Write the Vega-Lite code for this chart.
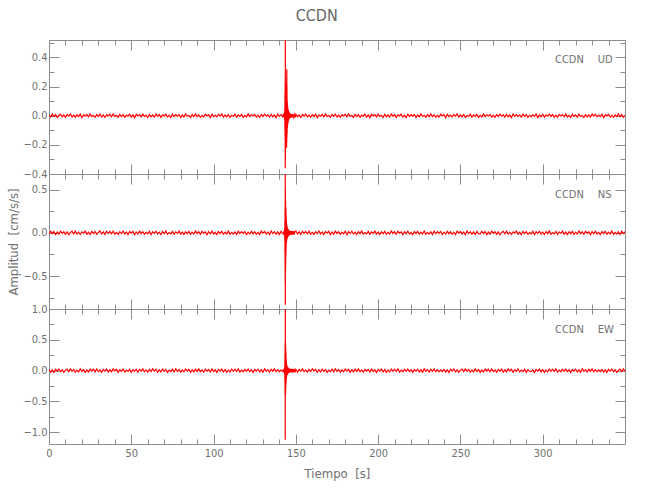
{
  "$schema": "https://vega.github.io/schema/vega-lite/v6.json",
  "background": "white",
  "padding": {"left": 7, "top": 8, "right": 20, "bottom": 10},
  "bounds": "flush",
  "spacing": 0,
  "title": {"text": "CCDN", "anchor": "middle", "fontSize": 16, "fontWeight": "normal", "color": "#666666", "offset": 12},
  "datasets": {
    "seis": [
{"t":0,"u":0.006,"n":-0.012,"e":0.018},
{"t":1,"u":-0.009,"n":0.018,"e":-0.025},
{"t":2,"u":0.011,"n":-0.007,"e":0.012},
{"t":3,"u":-0.004,"n":0.015,"e":-0.03},
{"t":4,"u":0.008,"n":-0.02,"e":0.022},
{"t":5,"u":-0.012,"n":0.009,"e":-0.008},
{"t":6,"u":0.003,"n":-0.016,"e":0.027},
{"t":7,"u":0.01,"n":0.021,"e":-0.019},
{"t":8,"u":-0.007,"n":-0.005,"e":0.014},
{"t":9,"u":0.005,"n":0.013,"e":-0.028},
{"t":10,"u":-0.011,"n":-0.018,"e":0.009},
{"t":11,"u":0.009,"n":0.01,"e":0.024},
{"t":12,"u":-0.002,"n":-0.022,"e":-0.016},
{"t":13,"u":0.012,"n":0.006,"e":0.029},
{"t":14,"u":-0.008,"n":0.017,"e":-0.011},
{"t":15,"u":0.004,"n":-0.011,"e":0.02},
{"t":16,"u":-0.01,"n":0.019,"e":-0.026},
{"t":17,"u":0.007,"n":-0.014,"e":0.007},
{"t":18,"u":-0.005,"n":0.008,"e":-0.022},
{"t":19,"u":0.011,"n":-0.019,"e":0.03},
{"t":20,"u":-0.013,"n":0.012,"e":-0.013},
{"t":21,"u":0.006,"n":-0.003,"e":0.017},
{"t":22,"u":-0.003,"n":0.02,"e":-0.027},
{"t":23,"u":0.009,"n":-0.015,"e":0.01},
{"t":24,"u":-0.008,"n":0.007,"e":-0.021},
{"t":25,"u":0.012,"n":-0.021,"e":0.025},
{"t":26,"u":-0.006,"n":0.016,"e":-0.006},
{"t":27,"u":0.002,"n":-0.009,"e":0.023},
{"t":28,"u":-0.01,"n":0.014,"e":-0.018},
{"t":29,"u":0.008,"n":-0.017,"e":0.028},
{"t":30,"u":-0.004,"n":0.004,"e":-0.015},
{"t":31,"u":0.011,"n":0.022,"e":0.011},
{"t":32,"u":-0.009,"n":-0.013,"e":-0.029},
{"t":33,"u":0.005,"n":0.011,"e":0.019},
{"t":34,"u":-0.012,"n":-0.02,"e":-0.009},
{"t":35,"u":0.007,"n":0.018,"e":0.026},
{"t":36,"u":-0.001,"n":-0.006,"e":-0.024},
{"t":37,"u":0.01,"n":0.015,"e":0.013},
{"t":38,"u":-0.007,"n":-0.01,"e":-0.02},
{"t":39,"u":0.013,"n":0.019,"e":0.029},
{"t":40,"u":-0.005,"n":-0.016,"e":-0.005},
{"t":41,"u":0.003,"n":0.005,"e":0.021},
{"t":42,"u":-0.011,"n":-0.018,"e":-0.028},
{"t":43,"u":0.009,"n":0.013,"e":0.016},
{"t":44,"u":-0.006,"n":-0.008,"e":-0.012},
{"t":45,"u":0.008,"n":0.021,"e":0.027},
{"t":46,"u":-0.01,"n":-0.012,"e":-0.023},
{"t":47,"u":0.004,"n":0.009,"e":0.008},
{"t":48,"u":-0.003,"n":-0.019,"e":-0.017},
{"t":49,"u":0.012,"n":0.016,"e":0.024},
{"t":50,"u":-0.009,"n":-0.004,"e":-0.03},
{"t":51,"u":0.006,"n":0.017,"e":0.014},
{"t":52,"u":-0.013,"n":-0.022,"e":-0.01},
{"t":53,"u":0.01,"n":0.01,"e":0.022},
{"t":54,"u":-0.002,"n":-0.014,"e":-0.026},
{"t":55,"u":0.007,"n":0.02,"e":0.018},
{"t":56,"u":-0.008,"n":-0.007,"e":-0.007},
{"t":57,"u":0.011,"n":0.012,"e":0.029},
{"t":58,"u":-0.005,"n":-0.017,"e":-0.019},
{"t":59,"u":0.003,"n":0.006,"e":0.012},
{"t":60,"u":-0.012,"n":-0.011,"e":-0.025},
{"t":61,"u":0.009,"n":0.018,"e":0.02},
{"t":62,"u":-0.007,"n":-0.021,"e":-0.014},
{"t":63,"u":0.005,"n":0.014,"e":0.028},
{"t":64,"u":-0.01,"n":-0.005,"e":-0.008},
{"t":65,"u":0.012,"n":0.019,"e":0.023},
{"t":66,"u":-0.004,"n":-0.013,"e":-0.027},
{"t":67,"u":0.008,"n":0.008,"e":0.015},
{"t":68,"u":-0.011,"n":-0.02,"e":-0.021},
{"t":69,"u":0.006,"n":0.015,"e":0.026},
{"t":70,"u":-0.002,"n":-0.009,"e":-0.011},
{"t":71,"u":0.01,"n":0.022,"e":0.017},
{"t":72,"u":-0.009,"n":-0.016,"e":-0.029},
{"t":73,"u":0.004,"n":0.003,"e":0.009},
{"t":74,"u":-0.013,"n":-0.012,"e":-0.016},
{"t":75,"u":0.011,"n":0.017,"e":0.025},
{"t":76,"u":-0.006,"n":-0.018,"e":-0.022},
{"t":77,"u":0.007,"n":0.011,"e":0.03},
{"t":78,"u":-0.003,"n":-0.006,"e":-0.013},
{"t":79,"u":0.009,"n":0.02,"e":0.019},
{"t":80,"u":-0.012,"n":-0.015,"e":-0.024},
{"t":81,"u":0.005,"n":0.009,"e":0.01},
{"t":82,"u":-0.008,"n":-0.021,"e":-0.018},
{"t":83,"u":0.013,"n":0.013,"e":0.027},
{"t":84,"u":-0.004,"n":-0.01,"e":-0.006},
{"t":85,"u":0.002,"n":0.016,"e":0.021},
{"t":86,"u":-0.01,"n":-0.019,"e":-0.028},
{"t":87,"u":0.008,"n":0.007,"e":0.014},
{"t":88,"u":-0.007,"n":-0.014,"e":-0.02},
{"t":89,"u":0.012,"n":0.021,"e":0.024},
{"t":90,"u":-0.005,"n":-0.008,"e":-0.012},
{"t":91,"u":0.006,"n":0.012,"e":0.029},
{"t":92,"u":-0.011,"n":-0.017,"e":-0.017},
{"t":93,"u":0.003,"n":0.018,"e":0.011},
{"t":94,"u":-0.009,"n":-0.003,"e":-0.026},
{"t":95,"u":0.01,"n":0.01,"e":0.022},
{"t":96,"u":-0.002,"n":-0.022,"e":-0.009},
{"t":97,"u":0.007,"n":0.015,"e":0.018},
{"t":98,"u":-0.013,"n":-0.011,"e":-0.023},
{"t":99,"u":0.011,"n":0.019,"e":0.028},
{"t":100,"u":-0.006,"n":-0.013,"e":-0.015},
{"t":101,"u":0.004,"n":0.006,"e":0.013},
{"t":102,"u":-0.008,"n":-0.02,"e":-0.03},
{"t":103,"u":0.009,"n":0.014,"e":0.02},
{"t":104,"u":-0.003,"n":-0.007,"e":-0.007},
{"t":105,"u":0.012,"n":0.017,"e":0.025},
{"t":106,"u":-0.01,"n":-0.016,"e":-0.019},
{"t":107,"u":0.005,"n":0.009,"e":0.016},
{"t":108,"u":-0.007,"n":-0.012,"e":-0.027},
{"t":109,"u":0.008,"n":0.022,"e":0.012},
{"t":110,"u":-0.012,"n":-0.018,"e":-0.022},
{"t":111,"u":0.002,"n":0.005,"e":0.026},
{"t":112,"u":-0.004,"n":-0.015,"e":-0.01},
{"t":113,"u":0.011,"n":0.011,"e":0.023},
{"t":114,"u":-0.009,"n":-0.019,"e":-0.014},
{"t":115,"u":0.006,"n":0.02,"e":0.029},
{"t":116,"u":-0.005,"n":-0.009,"e":-0.025},
{"t":117,"u":0.01,"n":0.013,"e":0.008},
{"t":118,"u":-0.011,"n":-0.006,"e":-0.018},
{"t":119,"u":0.003,"n":0.016,"e":0.021},
{"t":120,"u":-0.008,"n":-0.021,"e":-0.011},
{"t":121,"u":0.013,"n":0.008,"e":0.027},
{"t":122,"u":-0.006,"n":-0.014,"e":-0.016},
{"t":123,"u":0.007,"n":0.018,"e":0.015},
{"t":124,"u":-0.002,"n":-0.01,"e":-0.029},
{"t":125,"u":0.009,"n":0.012,"e":0.019},
{"t":126,"u":-0.01,"n":-0.017,"e":-0.008},
{"t":127,"u":0.004,"n":0.007,"e":0.024},
{"t":128,"u":-0.012,"n":-0.02,"e":-0.021},
{"t":129,"u":0.008,"n":0.019,"e":0.013},
{"t":130,"u":-0.005,"n":-0.004,"e":-0.026},
{"t":131,"u":0.011,"n":0.015,"e":0.03},
{"t":132,"u":-0.003,"n":-0.013,"e":-0.012},
{"t":133,"u":0.006,"n":0.01,"e":0.017},
{"t":134,"u":-0.009,"n":-0.022,"e":-0.023},
{"t":135,"u":0.01,"n":0.021,"e":0.022},
{"t":136,"u":-0.007,"n":-0.008,"e":-0.009},
{"t":137,"u":0.005,"n":0.014,"e":0.028},
{"t":138,"u":-0.013,"n":-0.016,"e":-0.017},
{"t":139,"u":0.012,"n":0.011,"e":0.015},
{"t":140,"u":-0.004,"n":-0.019,"e":-0.02},
{"t":141,"u":0.008,"n":0.017,"e":0.011},
{"t":142,"u":-0.006,"n":-0.009,"e":-0.014},
{"t":142.5,"u":0.007,"n":-0.014,"e":0.02},
{"t":142.7,"u":-0.01,"n":0.018,"e":-0.025},
{"t":142.9,"u":0.012,"n":-0.02,"e":0.028},
{"t":143.0,"u":-0.015,"n":0.025,"e":-0.03},
{"t":143.1,"u":0.02,"n":-0.03,"e":0.04},
{"t":143.2,"u":-0.03,"n":0.05,"e":-0.06},
{"t":143.3,"u":0.06,"n":-0.09,"e":0.12},
{"t":143.35,"u":-0.1,"n":0.15,"e":-0.2},
{"t":143.4,"u":0.16,"n":-0.25,"e":0.3},
{"t":143.45,"u":-0.16,"n":0.3,"e":-0.41},
{"t":143.5,"u":0.23,"n":-0.6,"e":0.47},
{"t":143.55,"u":-0.36,"n":0.75,"e":-1.12},
{"t":143.6,"u":0.56,"n":-0.83,"e":1.05},
{"t":143.65,"u":-0.3,"n":0.5,"e":-0.4},
{"t":143.7,"u":0.2,"n":-0.45,"e":0.47},
{"t":143.75,"u":-0.2,"n":0.36,"e":-0.38},
{"t":143.8,"u":0.15,"n":-0.4,"e":0.4},
{"t":143.85,"u":-0.14,"n":0.3,"e":-0.3},
{"t":143.9,"u":0.12,"n":-0.3,"e":0.33},
{"t":143.95,"u":-0.1,"n":0.28,"e":-0.25},
{"t":144.0,"u":0.1,"n":-0.22,"e":0.28},
{"t":144.05,"u":-0.12,"n":0.22,"e":-0.2},
{"t":144.1,"u":0.14,"n":-0.16,"e":0.2},
{"t":144.15,"u":-0.15,"n":0.18,"e":-0.16},
{"t":144.2,"u":0.18,"n":-0.13,"e":0.17},
{"t":144.25,"u":-0.2,"n":0.14,"e":-0.12},
{"t":144.3,"u":0.22,"n":-0.11,"e":0.13},
{"t":144.35,"u":-0.22,"n":0.11,"e":-0.1},
{"t":144.4,"u":0.26,"n":-0.09,"e":0.1},
{"t":144.45,"u":-0.18,"n":0.09,"e":-0.09},
{"t":144.5,"u":0.32,"n":-0.08,"e":0.08},
{"t":144.55,"u":-0.15,"n":0.08,"e":-0.08},
{"t":144.6,"u":0.2,"n":-0.07,"e":0.07},
{"t":144.7,"u":-0.12,"n":0.07,"e":-0.07},
{"t":144.8,"u":0.1,"n":-0.06,"e":0.07},
{"t":144.9,"u":-0.08,"n":0.06,"e":-0.06},
{"t":145.0,"u":0.07,"n":-0.05,"e":0.06},
{"t":145.1,"u":-0.06,"n":0.05,"e":-0.05},
{"t":145.2,"u":0.05,"n":-0.045,"e":0.05},
{"t":145.3,"u":-0.045,"n":0.04,"e":-0.045},
{"t":145.4,"u":0.04,"n":-0.04,"e":0.045},
{"t":145.5,"u":-0.035,"n":0.035,"e":-0.04},
{"t":145.6,"u":0.03,"n":-0.035,"e":0.04},
{"t":145.7,"u":-0.028,"n":0.03,"e":-0.035},
{"t":145.8,"u":0.025,"n":-0.03,"e":0.035},
{"t":145.9,"u":-0.022,"n":0.028,"e":-0.03},
{"t":146.0,"u":0.02,"n":-0.026,"e":0.032},
{"t":146.2,"u":-0.018,"n":0.025,"e":-0.03},
{"t":146.4,"u":0.016,"n":-0.024,"e":0.031},
{"t":146.6,"u":-0.015,"n":0.023,"e":-0.03},
{"t":146.8,"u":0.014,"n":-0.022,"e":0.029},
{"t":147.0,"u":-0.013,"n":0.022,"e":-0.03},
{"t":147.3,"u":0.012,"n":-0.021,"e":0.03},
{"t":147.6,"u":-0.012,"n":0.021,"e":-0.029},
{"t":148.0,"u":0.011,"n":-0.02,"e":0.03},
{"t":148.5,"u":-0.011,"n":0.021,"e":-0.028},
{"t":149.0,"u":0.01,"n":-0.02,"e":0.03},
{"t":149.5,"u":-0.012,"n":0.019,"e":-0.029},
{"t":150,"u":0.01,"n":0.022,"e":0.022},
{"t":151,"u":-0.007,"n":-0.013,"e":-0.026},
{"t":152,"u":0.005,"n":0.011,"e":0.018},
{"t":153,"u":-0.011,"n":-0.02,"e":-0.007},
{"t":154,"u":0.009,"n":0.018,"e":0.029},
{"t":155,"u":-0.002,"n":-0.006,"e":-0.019},
{"t":156,"u":0.012,"n":0.015,"e":0.012},
{"t":157,"u":-0.008,"n":-0.01,"e":-0.025},
{"t":158,"u":0.004,"n":0.019,"e":0.02},
{"t":159,"u":-0.01,"n":-0.016,"e":-0.014},
{"t":160,"u":0.007,"n":0.005,"e":0.028},
{"t":161,"u":-0.005,"n":-0.018,"e":-0.008},
{"t":162,"u":0.011,"n":0.013,"e":0.023},
{"t":163,"u":-0.013,"n":-0.008,"e":-0.027},
{"t":164,"u":0.006,"n":0.021,"e":0.015},
{"t":165,"u":-0.003,"n":-0.012,"e":-0.021},
{"t":166,"u":0.009,"n":0.009,"e":0.026},
{"t":167,"u":-0.008,"n":-0.019,"e":-0.011},
{"t":168,"u":0.012,"n":0.016,"e":0.017},
{"t":169,"u":-0.006,"n":-0.004,"e":-0.029},
{"t":170,"u":0.002,"n":0.017,"e":0.009},
{"t":171,"u":-0.01,"n":-0.022,"e":-0.016},
{"t":172,"u":0.008,"n":0.01,"e":0.025},
{"t":173,"u":-0.004,"n":-0.014,"e":-0.022},
{"t":174,"u":0.011,"n":0.02,"e":0.03},
{"t":175,"u":-0.009,"n":-0.007,"e":-0.013},
{"t":176,"u":0.005,"n":0.012,"e":0.019},
{"t":177,"u":-0.012,"n":-0.017,"e":-0.024},
{"t":178,"u":0.007,"n":0.006,"e":0.01},
{"t":179,"u":-0.001,"n":-0.011,"e":-0.018},
{"t":180,"u":0.01,"n":0.018,"e":0.027},
{"t":181,"u":-0.007,"n":-0.021,"e":-0.006},
{"t":182,"u":0.013,"n":0.014,"e":0.021},
{"t":183,"u":-0.005,"n":-0.005,"e":-0.028},
{"t":184,"u":0.003,"n":0.019,"e":0.014},
{"t":185,"u":-0.011,"n":-0.013,"e":-0.02},
{"t":186,"u":0.009,"n":0.008,"e":0.024},
{"t":187,"u":-0.006,"n":-0.02,"e":-0.012},
{"t":188,"u":0.008,"n":0.015,"e":0.029},
{"t":189,"u":-0.01,"n":-0.009,"e":-0.017},
{"t":190,"u":0.004,"n":0.022,"e":0.011},
{"t":191,"u":-0.003,"n":-0.016,"e":-0.026},
{"t":192,"u":0.012,"n":0.003,"e":0.022},
{"t":193,"u":-0.009,"n":-0.012,"e":-0.009},
{"t":194,"u":0.006,"n":0.017,"e":0.018},
{"t":195,"u":-0.013,"n":-0.018,"e":-0.023},
{"t":196,"u":0.01,"n":0.011,"e":0.028},
{"t":197,"u":-0.002,"n":-0.006,"e":-0.015},
{"t":198,"u":0.007,"n":0.02,"e":0.013},
{"t":199,"u":-0.008,"n":-0.015,"e":-0.03},
{"t":200,"u":0.011,"n":0.009,"e":0.02},
{"t":201,"u":-0.005,"n":-0.021,"e":-0.007},
{"t":202,"u":0.003,"n":0.013,"e":0.025},
{"t":203,"u":-0.012,"n":-0.01,"e":-0.019},
{"t":204,"u":0.009,"n":0.016,"e":0.016},
{"t":205,"u":-0.007,"n":-0.019,"e":-0.027},
{"t":206,"u":0.005,"n":0.007,"e":0.012},
{"t":207,"u":-0.01,"n":-0.014,"e":-0.022},
{"t":208,"u":0.012,"n":0.021,"e":0.026},
{"t":209,"u":-0.004,"n":-0.008,"e":-0.01},
{"t":210,"u":0.008,"n":0.012,"e":0.023},
{"t":211,"u":-0.011,"n":-0.017,"e":-0.014},
{"t":212,"u":0.006,"n":0.018,"e":0.029},
{"t":213,"u":-0.002,"n":-0.003,"e":-0.025},
{"t":214,"u":0.01,"n":0.01,"e":0.008},
{"t":215,"u":-0.009,"n":-0.022,"e":-0.018},
{"t":216,"u":0.004,"n":0.015,"e":0.021},
{"t":217,"u":-0.013,"n":-0.011,"e":-0.011},
{"t":218,"u":0.011,"n":0.019,"e":0.027},
{"t":219,"u":-0.006,"n":-0.013,"e":-0.016},
{"t":220,"u":0.007,"n":0.006,"e":0.015},
{"t":221,"u":-0.003,"n":-0.02,"e":-0.029},
{"t":222,"u":0.009,"n":0.014,"e":0.019},
{"t":223,"u":-0.012,"n":-0.007,"e":-0.008},
{"t":224,"u":0.005,"n":0.017,"e":0.024},
{"t":225,"u":-0.008,"n":-0.016,"e":-0.021},
{"t":226,"u":0.013,"n":0.009,"e":0.013},
{"t":227,"u":-0.004,"n":-0.012,"e":-0.026},
{"t":228,"u":0.002,"n":0.022,"e":0.03},
{"t":229,"u":-0.01,"n":-0.018,"e":-0.012},
{"t":230,"u":0.008,"n":0.005,"e":0.017},
{"t":231,"u":-0.007,"n":-0.015,"e":-0.023},
{"t":232,"u":0.012,"n":0.011,"e":0.022},
{"t":233,"u":-0.005,"n":-0.019,"e":-0.009},
{"t":234,"u":0.006,"n":0.02,"e":0.028},
{"t":235,"u":-0.011,"n":-0.009,"e":-0.017},
{"t":236,"u":0.003,"n":0.013,"e":0.015},
{"t":237,"u":-0.009,"n":-0.006,"e":-0.02},
{"t":238,"u":0.01,"n":0.016,"e":0.011},
{"t":239,"u":-0.002,"n":-0.021,"e":-0.014},
{"t":240,"u":0.007,"n":0.008,"e":0.018},
{"t":241,"u":-0.013,"n":-0.014,"e":-0.025},
{"t":242,"u":0.011,"n":0.018,"e":0.012},
{"t":243,"u":-0.006,"n":-0.01,"e":-0.03},
{"t":244,"u":0.004,"n":0.012,"e":0.022},
{"t":245,"u":-0.008,"n":-0.017,"e":-0.008},
{"t":246,"u":0.009,"n":0.007,"e":0.027},
{"t":247,"u":-0.003,"n":-0.02,"e":-0.019},
{"t":248,"u":0.012,"n":0.019,"e":0.014},
{"t":249,"u":-0.01,"n":-0.004,"e":-0.028},
{"t":250,"u":0.005,"n":0.015,"e":0.009},
{"t":251,"u":-0.007,"n":-0.013,"e":0.024},
{"t":252,"u":0.008,"n":0.01,"e":-0.016},
{"t":253,"u":-0.012,"n":-0.022,"e":0.029},
{"t":254,"u":0.002,"n":0.021,"e":-0.011},
{"t":255,"u":-0.004,"n":-0.008,"e":0.02},
{"t":256,"u":0.011,"n":0.014,"e":-0.026},
{"t":257,"u":-0.009,"n":-0.016,"e":0.007},
{"t":258,"u":0.006,"n":0.011,"e":-0.022},
{"t":259,"u":-0.005,"n":-0.019,"e":0.03},
{"t":260,"u":0.01,"n":0.017,"e":-0.013},
{"t":261,"u":-0.011,"n":-0.009,"e":0.017},
{"t":262,"u":0.003,"n":-0.012,"e":-0.027},
{"t":263,"u":-0.008,"n":0.018,"e":0.01},
{"t":264,"u":0.013,"n":-0.007,"e":-0.021},
{"t":265,"u":-0.006,"n":0.015,"e":0.025},
{"t":266,"u":0.007,"n":-0.02,"e":-0.006},
{"t":267,"u":-0.002,"n":0.009,"e":0.023},
{"t":268,"u":0.009,"n":-0.016,"e":-0.018},
{"t":269,"u":-0.01,"n":0.021,"e":0.028},
{"t":270,"u":0.004,"n":-0.005,"e":-0.015},
{"t":271,"u":-0.012,"n":0.013,"e":0.011},
{"t":272,"u":0.008,"n":-0.018,"e":-0.029},
{"t":273,"u":-0.005,"n":0.01,"e":0.019},
{"t":274,"u":0.011,"n":-0.022,"e":-0.009},
{"t":275,"u":-0.003,"n":0.006,"e":0.026},
{"t":276,"u":0.006,"n":0.017,"e":-0.024},
{"t":277,"u":-0.009,"n":-0.011,"e":0.013},
{"t":278,"u":0.01,"n":0.019,"e":-0.02},
{"t":279,"u":-0.007,"n":-0.014,"e":0.029},
{"t":280,"u":0.005,"n":0.008,"e":-0.005},
{"t":281,"u":-0.013,"n":-0.019,"e":0.021},
{"t":282,"u":0.012,"n":0.012,"e":-0.028},
{"t":283,"u":-0.004,"n":-0.003,"e":0.016},
{"t":284,"u":0.008,"n":0.02,"e":-0.012},
{"t":285,"u":-0.006,"n":-0.015,"e":0.027},
{"t":286,"u":0.006,"n":0.007,"e":-0.023},
{"t":287,"u":-0.009,"n":-0.021,"e":0.008},
{"t":288,"u":0.011,"n":0.016,"e":-0.017},
{"t":289,"u":-0.004,"n":-0.009,"e":0.024},
{"t":290,"u":0.008,"n":0.014,"e":-0.03},
{"t":291,"u":-0.012,"n":-0.017,"e":0.014},
{"t":292,"u":0.003,"n":0.004,"e":-0.01},
{"t":293,"u":-0.006,"n":-0.011,"e":-0.015},
{"t":294,"u":0.008,"n":0.018,"e":0.013},
{"t":295,"u":-0.004,"n":-0.021,"e":-0.03},
{"t":296,"u":0.012,"n":0.014,"e":0.02},
{"t":297,"u":-0.013,"n":-0.005,"e":-0.007},
{"t":298,"u":0.005,"n":0.019,"e":0.025},
{"t":299,"u":-0.007,"n":-0.013,"e":-0.019},
{"t":300,"u":0.01,"n":0.008,"e":0.016},
{"t":301,"u":-0.009,"n":-0.02,"e":-0.027},
{"t":302,"u":0.006,"n":0.015,"e":0.012},
{"t":303,"u":-0.003,"n":-0.009,"e":-0.022},
{"t":304,"u":0.011,"n":0.022,"e":0.026},
{"t":305,"u":-0.005,"n":-0.016,"e":-0.01},
{"t":306,"u":0.008,"n":0.003,"e":0.023},
{"t":307,"u":-0.012,"n":-0.012,"e":-0.014},
{"t":308,"u":0.004,"n":0.017,"e":0.029},
{"t":309,"u":-0.01,"n":-0.018,"e":-0.025},
{"t":310,"u":0.009,"n":0.011,"e":0.008},
{"t":311,"u":-0.002,"n":-0.006,"e":-0.018},
{"t":312,"u":0.007,"n":0.02,"e":0.021},
{"t":313,"u":-0.006,"n":-0.015,"e":-0.011},
{"t":314,"u":0.013,"n":0.009,"e":0.027},
{"t":315,"u":-0.008,"n":-0.021,"e":-0.016},
{"t":316,"u":0.003,"n":0.013,"e":0.015},
{"t":317,"u":-0.011,"n":-0.01,"e":-0.029},
{"t":318,"u":0.01,"n":0.016,"e":0.019},
{"t":319,"u":-0.005,"n":-0.019,"e":-0.008},
{"t":320,"u":0.006,"n":0.007,"e":0.024},
{"t":321,"u":-0.009,"n":-0.014,"e":-0.021},
{"t":322,"u":0.011,"n":0.021,"e":0.013},
{"t":323,"u":-0.004,"n":-0.008,"e":-0.026},
{"t":324,"u":0.002,"n":0.012,"e":0.03},
{"t":325,"u":-0.012,"n":-0.017,"e":-0.012},
{"t":326,"u":0.008,"n":0.018,"e":0.017},
{"t":327,"u":-0.007,"n":-0.003,"e":-0.023},
{"t":328,"u":0.005,"n":0.01,"e":0.022},
{"t":329,"u":-0.01,"n":-0.022,"e":-0.009},
{"t":330,"u":0.012,"n":0.015,"e":0.028},
{"t":331,"u":-0.003,"n":-0.011,"e":-0.017},
{"t":332,"u":0.009,"n":0.019,"e":0.015},
{"t":333,"u":-0.008,"n":-0.013,"e":-0.02},
{"t":334,"u":0.004,"n":0.006,"e":0.011},
{"t":335,"u":-0.006,"n":-0.02,"e":-0.014},
{"t":336,"u":0.011,"n":0.014,"e":0.018},
{"t":337,"u":-0.013,"n":-0.007,"e":-0.025},
{"t":338,"u":0.007,"n":0.017,"e":0.012},
{"t":339,"u":-0.002,"n":-0.016,"e":-0.03},
{"t":340,"u":0.01,"n":0.009,"e":0.022},
{"t":341,"u":-0.009,"n":-0.012,"e":-0.008},
{"t":342,"u":0.003,"n":0.022,"e":0.027},
{"t":343,"u":-0.011,"n":-0.018,"e":-0.019},
{"t":344,"u":0.006,"n":0.005,"e":0.014},
{"t":345,"u":-0.005,"n":-0.015,"e":-0.028},
{"t":346,"u":0.012,"n":0.011,"e":0.009},
{"t":347,"u":-0.007,"n":-0.019,"e":0.024},
{"t":348,"u":0.008,"n":0.02,"e":-0.016},
{"t":349,"u":-0.01,"n":-0.009,"e":0.029},
{"t":350,"u":0.002,"n":0.013,"e":-0.011}
    ]
  },
  "vconcat": [
    {
      "width": 576, "height": 134,
      "layer": [
        {
          "data": {"name": "seis"},
          "mark": {"type": "line", "color": "#ff0000", "strokeWidth": 1.2, "clip": true},
          "encoding": {
            "x": {"field": "t", "type": "quantitative", "scale": {"domain": [0, 350], "nice": false, "zero": false},
              "axis": {"orient": "bottom", "values": [0,10,20,30,40,50,60,70,80,90,100,110,120,130,140,150,160,170,180,190,200,210,220,230,240,250,260,270,280,290,300,310,320,330,340], "labels": false, "title": null,
                "tickSize": {"condition": {"test": "datum.value % 50 == 0", "value": -10}, "value": -5}}},
            "y": {"field": "u", "type": "quantitative", "scale": {"domain": [-0.4, 0.52], "nice": false, "zero": false},
              "axis": {"orient": "left", "values": [-0.4,-0.3,-0.2,-0.1,0,0.1,0.2,0.3,0.4,0.5], "format": ".1f", "title": null,
                "labelExpr": "abs(round(datum.value*10)) % 2 == 0 ? datum.label : ''",
                "tickSize": {"condition": {"test": "abs(round(datum.value*10)) % 2 == 0", "value": -10}, "value": -5}}}
          }
        },
        {
          "data": {"values": [{}]},
          "mark": {"type": "text", "align": "right", "baseline": "middle", "fontSize": 11, "color": "#707070"},
          "encoding": {
            "x": {"datum": 325, "type": "quantitative", "scale": {"domain": [0, 350], "nice": false, "zero": false},
              "axis": {"orient": "top", "values": [0,10,20,30,40,50,60,70,80,90,100,110,120,130,140,150,160,170,180,190,200,210,220,230,240,250,260,270,280,290,300,310,320,330,340], "labels": false, "title": null,
                "tickSize": {"condition": {"test": "datum.value % 50 == 0", "value": -10}, "value": -5}}},
            "y": {"datum": 0.383, "type": "quantitative", "scale": {"domain": [-0.4, 0.52], "nice": false, "zero": false},
              "axis": {"orient": "right", "values": [-0.4,-0.3,-0.2,-0.1,0,0.1,0.2,0.3,0.4,0.5], "labels": false, "title": null,
                "tickSize": {"condition": {"test": "abs(round(datum.value*10)) % 2 == 0", "value": -10}, "value": -5}}},
            "text": {"value": "CCDN"}
          }
        },
        {
          "data": {"values": [{}]},
          "mark": {"type": "text", "align": "left", "baseline": "middle", "fontSize": 11, "color": "#707070"},
          "encoding": {
            "x": {"datum": 333.5, "type": "quantitative", "axis": null},
            "y": {"datum": 0.383, "type": "quantitative", "axis": null},
            "text": {"value": "UD"}
          }
        }
      ],
      "resolve": {"axis": {"x": "independent", "y": "independent"}}
    },
    {
      "width": 576, "height": 135,
      "layer": [
        {
          "data": {"name": "seis"},
          "mark": {"type": "line", "color": "#ff0000", "strokeWidth": 1.2, "clip": true},
          "encoding": {
            "x": {"field": "t", "type": "quantitative", "scale": {"domain": [0, 350], "nice": false, "zero": false},
              "axis": {"orient": "bottom", "values": [0,10,20,30,40,50,60,70,80,90,100,110,120,130,140,150,160,170,180,190,200,210,220,230,240,250,260,270,280,290,300,310,320,330,340], "labels": false, "title": null,
                "tickSize": {"condition": {"test": "datum.value % 50 == 0", "value": -10}, "value": -5}}},
            "y": {"field": "n", "type": "quantitative", "scale": {"domain": [-0.88, 0.68], "nice": false, "zero": false},
              "axis": {"orient": "left", "values": [-0.75,-0.5,-0.25,0,0.25,0.5], "format": ".1f", "title": "Amplitud\u00a0\u00a0[cm/s/s]", "titlePadding": 2,
                "labelExpr": "abs(round(datum.value*4)) % 2 == 0 ? datum.label : ''",
                "tickSize": {"condition": {"test": "abs(round(datum.value*4)) % 2 == 0", "value": -10}, "value": -5}}}
          }
        },
        {
          "data": {"values": [{}]},
          "mark": {"type": "text", "align": "right", "baseline": "middle", "fontSize": 11, "color": "#707070"},
          "encoding": {
            "x": {"datum": 325, "type": "quantitative", "scale": {"domain": [0, 350], "nice": false, "zero": false},
              "axis": {"orient": "top", "values": [0,10,20,30,40,50,60,70,80,90,100,110,120,130,140,150,160,170,180,190,200,210,220,230,240,250,260,270,280,290,300,310,320,330,340], "labels": false, "title": null,
                "tickSize": {"condition": {"test": "datum.value % 50 == 0", "value": -10}, "value": -5}}},
            "y": {"datum": 0.44, "type": "quantitative", "scale": {"domain": [-0.88, 0.68], "nice": false, "zero": false},
              "axis": {"orient": "right", "values": [-0.75,-0.5,-0.25,0,0.25,0.5], "labels": false, "title": null,
                "tickSize": {"condition": {"test": "abs(round(datum.value*4)) % 2 == 0", "value": -10}, "value": -5}}},
            "text": {"value": "CCDN"}
          }
        },
        {
          "data": {"values": [{}]},
          "mark": {"type": "text", "align": "left", "baseline": "middle", "fontSize": 11, "color": "#707070"},
          "encoding": {
            "x": {"datum": 333.5, "type": "quantitative", "axis": null},
            "y": {"datum": 0.44, "type": "quantitative", "axis": null},
            "text": {"value": "NS"}
          }
        }
      ],
      "resolve": {"axis": {"x": "independent", "y": "independent"}}
    },
    {
      "width": 576, "height": 135,
      "layer": [
        {
          "data": {"name": "seis"},
          "mark": {"type": "line", "color": "#ff0000", "strokeWidth": 1.2, "clip": true},
          "encoding": {
            "x": {"field": "t", "type": "quantitative", "scale": {"domain": [0, 350], "nice": false, "zero": false},
              "axis": {"orient": "bottom", "values": [0,10,20,30,40,50,60,70,80,90,100,110,120,130,140,150,160,170,180,190,200,210,220,230,240,250,260,270,280,290,300,310,320,330,340], "format": "d", "title": "Tiempo\u00a0\u00a0[s]", "titlePadding": 4,
                "labelExpr": "datum.value % 50 == 0 ? datum.label : ''",
                "tickSize": {"condition": {"test": "datum.value % 50 == 0", "value": -10}, "value": -5}}},
            "y": {"field": "e", "type": "quantitative", "scale": {"domain": [-1.19, 1.0], "nice": false, "zero": false},
              "axis": {"orient": "left", "values": [-1,-0.75,-0.5,-0.25,0,0.25,0.5,0.75,1], "format": ".1f", "title": null,
                "labelExpr": "abs(round(datum.value*4)) % 2 == 0 ? datum.label : ''",
                "tickSize": {"condition": {"test": "abs(round(datum.value*4)) % 2 == 0", "value": -10}, "value": -5}}}
          }
        },
        {
          "data": {"values": [{}]},
          "mark": {"type": "text", "align": "right", "baseline": "middle", "fontSize": 11, "color": "#707070"},
          "encoding": {
            "x": {"datum": 325, "type": "quantitative", "scale": {"domain": [0, 350], "nice": false, "zero": false},
              "axis": {"orient": "top", "values": [0,10,20,30,40,50,60,70,80,90,100,110,120,130,140,150,160,170,180,190,200,210,220,230,240,250,260,270,280,290,300,310,320,330,340], "labels": false, "title": null,
                "tickSize": {"condition": {"test": "datum.value % 50 == 0", "value": -10}, "value": -5}}},
            "y": {"datum": 0.66, "type": "quantitative", "scale": {"domain": [-1.19, 1.0], "nice": false, "zero": false},
              "axis": {"orient": "right", "values": [-1,-0.75,-0.5,-0.25,0,0.25,0.5,0.75,1], "labels": false, "title": null,
                "tickSize": {"condition": {"test": "abs(round(datum.value*4)) % 2 == 0", "value": -10}, "value": -5}}},
            "text": {"value": "CCDN"}
          }
        },
        {
          "data": {"values": [{}]},
          "mark": {"type": "text", "align": "left", "baseline": "middle", "fontSize": 11, "color": "#707070"},
          "encoding": {
            "x": {"datum": 333.5, "type": "quantitative", "axis": null},
            "y": {"datum": 0.66, "type": "quantitative", "axis": null},
            "text": {"value": "EW"}
          }
        }
      ],
      "resolve": {"axis": {"x": "independent", "y": "independent"}}
    }
  ],
  "config": {
    "font": "Liberation Sans Narrow, DejaVu Sans Condensed, sans-serif",
    "view": {"stroke": "#8c8c8c", "strokeWidth": 1},
    "axis": {"domain": false, "grid": false, "tickColor": "#8c8c8c", "tickWidth": 1, "labelColor": "#707070", "labelFontSize": 11, "labelOverlap": false, "labelFlush": false, "titleColor": "#707070", "titleFontSize": 13, "titleFontWeight": "normal"},
    "axisX": {"labelPadding": 13},
    "axisY": {"labelPadding": 12},
    "title": {"font": "Liberation Sans Narrow, DejaVu Sans Condensed, sans-serif"}
  }
}
